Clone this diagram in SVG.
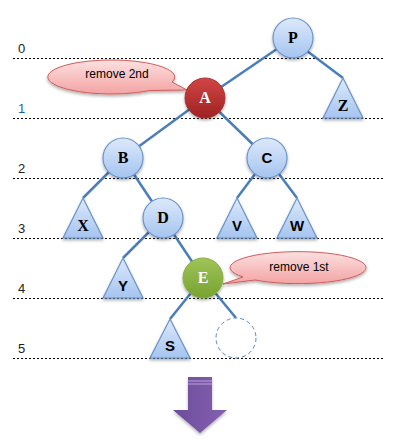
<svg xmlns="http://www.w3.org/2000/svg" width="404" height="448" viewBox="0 0 404 448">
  <style>
    .level { stroke: #000; stroke-width: 1.2; stroke-dasharray: 2 2; }
    .lvl { font-family: "Liberation Sans", Arial, sans-serif; font-size: 13px; fill: #222; }
    .edge { stroke: #4a7ebb; stroke-width: 2.5; fill: none; }
    .node { fill: url(#blue); stroke: #6a93c8; stroke-width: 1.2; filter: url(#shadow); }
    .mono { font-family: "Liberation Serif", "Times New Roman", serif; font-weight: bold; font-size: 16px; fill: #000; text-anchor: middle; }
    .sans { font-family: "Liberation Sans", Arial, sans-serif; font-weight: bold; font-size: 15px; fill: #000; text-anchor: middle; }
    .wht { fill: #fff; }
    .callout { fill: url(#pink); stroke: #cf5c5c; stroke-width: 1; filter: url(#shadow); }
    .note { font-family: "Liberation Sans", Arial, sans-serif; font-size: 12px; fill: #000; text-anchor: middle; }
  </style>
  <defs>
    <linearGradient id="blue" x1="0" y1="0" x2="0" y2="1">
      <stop offset="0" stop-color="#dde9fa"/>
      <stop offset="1" stop-color="#a5c4f0"/>
    </linearGradient>
    <linearGradient id="red" x1="0" y1="0" x2="0" y2="1">
      <stop offset="0" stop-color="#d24545"/>
      <stop offset="1" stop-color="#9e2222"/>
    </linearGradient>
    <linearGradient id="green" x1="0" y1="0" x2="0" y2="1">
      <stop offset="0" stop-color="#a0c458"/>
      <stop offset="1" stop-color="#77a232"/>
    </linearGradient>
    <linearGradient id="pink" x1="0" y1="0" x2="0" y2="1">
      <stop offset="0" stop-color="#fde0e0"/>
      <stop offset="1" stop-color="#f3a3a3"/>
    </linearGradient>
    <linearGradient id="purple" x1="0" y1="0" x2="1" y2="0">
      <stop offset="0" stop-color="#6c4c9c"/>
      <stop offset="1" stop-color="#8560b0"/>
    </linearGradient>
    <filter id="shadow" x="-30%" y="-30%" width="160%" height="170%">
      <feDropShadow dx="0" dy="2" stdDeviation="1.5" flood-color="#000" flood-opacity="0.3"/>
    </filter>
  </defs>

  <!-- level guides -->
  <g id="levels">
    <line class="level" x1="13" y1="58.5" x2="384" y2="58.5"/>
    <line class="level" x1="13" y1="118.5" x2="384" y2="118.5"/>
    <line class="level" x1="13" y1="178.5" x2="384" y2="178.5"/>
    <line class="level" x1="13" y1="238.5" x2="384" y2="238.5"/>
    <line class="level" x1="13" y1="298.5" x2="384" y2="298.5"/>
    <line class="level" x1="13" y1="358.5" x2="384" y2="358.5"/>
    <text class="lvl" x="18" y="53">0</text>
    <text class="lvl" x="18" y="113" style="fill:#1f5fa8">1</text>
    <text class="lvl" x="18" y="173">2</text>
    <text class="lvl" x="18" y="233">3</text>
    <text class="lvl" x="18" y="293">4</text>
    <text class="lvl" x="18" y="353">5</text>
  </g>

  <!-- connectors -->
  <g id="edges">
    <line class="edge" x1="293" y1="38" x2="205" y2="98"/>
    <line class="edge" x1="307" y1="51" x2="343" y2="78"/>
    <line class="edge" x1="205" y1="98" x2="123" y2="158"/>
    <line class="edge" x1="205" y1="98" x2="267" y2="158"/>
    <line class="edge" x1="123" y1="158" x2="83" y2="198"/>
    <line class="edge" x1="123" y1="158" x2="163" y2="218"/>
    <line class="edge" x1="267" y1="158" x2="237" y2="198"/>
    <line class="edge" x1="267" y1="158" x2="297" y2="198"/>
    <line class="edge" x1="163" y1="218" x2="123" y2="258"/>
    <line class="edge" x1="163" y1="218" x2="203" y2="278"/>
    <line class="edge" x1="203" y1="278" x2="170" y2="319"/>
    <line class="edge" x1="203" y1="278" x2="236" y2="318"/>
  </g>

  <!-- callouts -->
  <g id="note-2nd">
    <path class="callout" d="M 150 90.5 A 63.5 17 0 1 1 172 82 L 187 90 Z"/>
    <text class="note" x="117" y="78">remove 2nd</text>
  </g>
  <g id="note-1st">
    <path class="callout" d="M 243 277 A 68 16 0 1 1 255 280 L 223 284 Z"/>
    <text class="note" x="299" y="271">remove 1st</text>
  </g>

  <g id="node-P">
    <circle class="node" cx="293" cy="38" r="20"/>
    <text class="mono" x="293" y="43">P</text>
  </g>
  <g id="node-A">
    <circle cx="205" cy="98" r="20" fill="url(#red)" stroke="#a83232" stroke-width="1" filter="url(#shadow)"/>
    <text class="mono wht" x="205" y="103">A</text>
  </g>
  <g id="node-Z">
    <polygon class="node" points="343,78 363,118 323,118"/>
    <text class="mono" x="343" y="111">Z</text>
  </g>
  <g id="node-B">
    <circle class="node" cx="123" cy="158" r="20"/>
    <text class="mono" x="123" y="163">B</text>
  </g>
  <g id="node-C">
    <circle class="node" cx="267" cy="158" r="20"/>
    <text class="sans" x="267" y="163">C</text>
  </g>
  <g id="node-X">
    <polygon class="node" points="83,198 103,238 63,238"/>
    <text class="mono" x="83" y="231">X</text>
  </g>
  <g id="node-D">
    <circle class="node" cx="163" cy="218" r="20"/>
    <text class="mono" x="163" y="223">D</text>
  </g>
  <g id="node-V">
    <polygon class="node" points="237,198 257,238 217,238"/>
    <text class="sans" x="237" y="231">V</text>
  </g>
  <g id="node-W">
    <polygon class="node" points="297,198 317,238 277,238"/>
    <text class="sans" x="297" y="231">W</text>
  </g>
  <g id="node-Y">
    <polygon class="node" points="123,258 143,298 103,298"/>
    <text class="sans" x="123" y="291">Y</text>
  </g>
  <g id="node-E">
    <circle cx="203" cy="278" r="20" fill="url(#green)" stroke="#8aae48" stroke-width="1" filter="url(#shadow)"/>
    <text class="mono wht" x="203" y="283">E</text>
  </g>
  <g id="node-S">
    <polygon class="node" points="170,319 190,358 150,358"/>
    <text class="sans" x="170" y="351">S</text>
  </g>
  <g id="node-empty">
    <circle cx="236" cy="338" r="20" fill="#fff" stroke="#5a86c0" stroke-width="1" stroke-dasharray="4 3"/>
  </g>

  <!-- down arrow -->
  <g id="arrow" filter="url(#shadow)">
    <path d="M 188 377 L 212 377 L 212 410 L 227 410 L 200 433 L 173 410 L 188 410 Z" fill="url(#purple)"/>
    <line x1="188" y1="381" x2="212" y2="381" stroke="#b9a5d6" stroke-width="1"/>
    <line x1="188" y1="384" x2="212" y2="384" stroke="#b9a5d6" stroke-width="1"/>
  </g>
</svg>
